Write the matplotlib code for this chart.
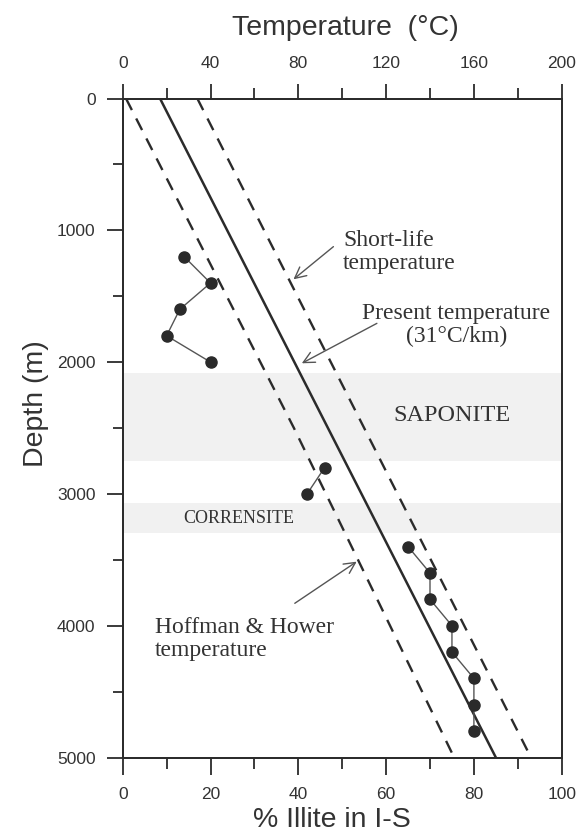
import numpy as np
import matplotlib.pyplot as plt

# ==================== DATA ====================

# % illite in I-S measured down the well, split where the profile is broken
illite_upper = [14, 20, 13, 10, 20]
depth_upper = [1200, 1400, 1600, 1800, 2000]
illite_mid = [46, 42]
depth_mid = [2800, 3000]
illite_lower = [65, 70, 70, 75, 75, 80, 80, 80]
depth_lower = [3400, 3600, 3800, 4000, 4200, 4400, 4600, 4800]

# temperature profiles (degC) against depth (m)
hh_depth = [0, 2500, 5000]
hh_temp = [1.5, 78, 151]
present_depth = [0, 5000]
present_temp = [17, 170]
short_depth = [0, 5000]
short_temp = [34, 186]

# clay mineral zones (depth range, m)
saponite_zone = (2080, 2750)
corrensite_zone = (3070, 3300)

# ==================== FIGURE ====================

W, H = 578, 839
fig = plt.figure(figsize=(W / 100, H / 100), dpi=100)
fig.patch.set_facecolor('white')

sans = ['Liberation Sans', 'DejaVu Sans']
serif = ['Liberation Serif', 'DejaVu Serif']
ink = '#2b2b2b'
txt = '#333333'

left, right, top, bottom = 122.7, 561.7, 98.5, 757.5
ax = fig.add_axes([left / W, 1 - bottom / H, (right - left) / W, (bottom - top) / H])
ax2 = ax.twiny()

# temperature lines and zones go on the top axis, data dots above them
ax.set_zorder(ax2.get_zorder() + 1)
ax.patch.set_visible(False)

for lo, hi in [saponite_zone, corrensite_zone]:
    ax2.axhspan(lo, hi, color='#f1f1f1', lw=0, zorder=0)

ax2.plot(hh_temp, hh_depth, color=ink, lw=1.7, dashes=(5.5, 4))
ax2.plot(present_temp, present_depth, color=ink, lw=1.8)
ax2.plot(short_temp, short_depth, color=ink, lw=1.7, dashes=(5.5, 4))

for xs, ys in [(illite_upper, depth_upper), (illite_mid, depth_mid),
               (illite_lower, depth_lower)]:
    ax.plot(xs, ys, color='#555555', lw=1.0, marker='o', ms=8,
            mfc='#2a2a2a', mec='#2a2a2a', zorder=5)

# ==================== AXES ====================

ax.set_xlim(0, 100)
ax.set_ylim(5000, 0)
ax2.set_xlim(0, 200)

ax.set_xticks(np.arange(0, 101, 20))
ax.set_xticks(np.arange(10, 100, 20), minor=True)
ax.set_yticks(np.arange(0, 5001, 1000))
ax.set_yticks(np.arange(500, 5000, 1000), minor=True)
ax2.set_xticks(np.arange(0, 201, 40))
ax2.set_xticks(np.arange(20, 200, 40), minor=True)

for a in (ax, ax2):
    for s in a.spines.values():
        s.set_linewidth(1.3)
        s.set_color(ink)

ax.tick_params(axis='x', which='major', bottom=True, top=False, direction='out',
               length=12.5, width=1.3, pad=9, labelsize=12.5, color=ink, labelcolor=txt)
ax.tick_params(axis='x', which='minor', bottom=True, top=False, direction='out',
               length=8, width=1.3, color=ink)
ax.tick_params(axis='y', which='major', left=True, right=False, direction='out',
               length=11.5, width=1.3, pad=8, labelsize=12.5, color=ink, labelcolor=txt)
ax.tick_params(axis='y', which='minor', left=True, right=False, direction='out',
               length=7.2, width=1.3, color=ink)
ax2.tick_params(axis='x', which='major', top=True, bottom=False, direction='out',
                length=11, width=1.3, pad=9, labelsize=12.5, color=ink, labelcolor=txt)
ax2.tick_params(axis='x', which='minor', top=True, bottom=False, direction='out',
                length=8, width=1.3, color=ink)

for lab in ax.get_xticklabels() + ax.get_yticklabels() + ax2.get_xticklabels():
    lab.set_family(sans)

fig.text(345 / W, 1 - 28 / H, 'Temperature  (\u00b0C)', ha='center', va='center',
         fontsize=20.5, family=sans, color=txt)
fig.text(332 / W, 1 - 820 / H, '% Illite in I-S', ha='center', va='center',
         fontsize=20.5, family=sans, color=txt)
fig.text(36 / W, 1 - 404 / H, 'Depth (m)', ha='center', va='center', rotation=90,
         fontsize=20.5, family=sans, color=txt)

# ==================== ANNOTATIONS ====================

arrow = dict(arrowstyle='->', color='#555555', lw=1.0, mutation_scale=20,
             shrinkA=0, shrinkB=0)

ax.text(50.2, 1168, 'Short-life\ntemperature', ha='left', va='center',
        fontsize=17, family=serif, color=txt, linespacing=1.12)
ax.annotate('', xy=(38.9, 1372), xytext=(48.0, 1124), arrowprops=arrow)

ax.text(76.0, 1718, 'Present temperature\n(31\u00b0C/km)', ha='center', va='center',
        multialignment='center', fontsize=17, family=serif, color=txt, linespacing=1.12)
ax.annotate('', xy=(40.8, 2009), xytext=(57.9, 1706), arrowprops=arrow)

ax.text(75.1, 2407, 'SAPONITE', ha='center', va='center',
        fontsize=17.5, family=serif, color=txt)
ax.text(26.5, 3183, 'CORRENSITE', ha='center', va='center',
        fontsize=13, family=serif, color=txt)

ax.text(7.4, 4100, 'Hoffman & Hower\ntemperature', ha='left', va='center',
        fontsize=17, family=serif, color=txt, linespacing=1.12)
ax.annotate('', xy=(53.3, 3514), xytext=(39.2, 3830), arrowprops=arrow)

fig.savefig('out.png', dpi=100, facecolor='white')
